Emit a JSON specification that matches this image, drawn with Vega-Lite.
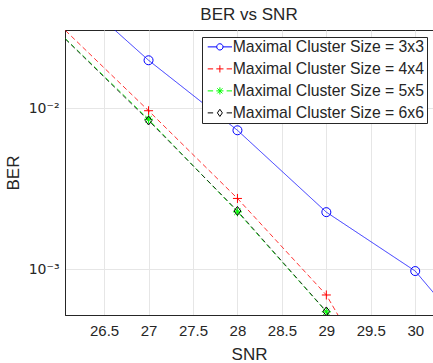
{
  "$schema": "https://vega.github.io/schema/vega-lite/v6.json",
  "width": 368,
  "height": 285,
  "autosize": {"type": "none"},
  "padding": {"left": 65, "top": 30, "right": 0, "bottom": 48},
  "background": "white",
  "title": {"text": "BER vs SNR", "font": "Liberation Sans", "fontSize": 17, "fontWeight": "normal", "color": "#262626", "anchor": "middle", "offset": 6},
  "config": {
    "view": {"stroke": "#262626", "strokeWidth": 1},
    "axis": {"labelFont": "Liberation Sans", "titleFont": "Liberation Sans", "labelColor": "#262626", "titleColor": "#262626", "domainColor": "#262626", "tickColor": "#262626", "gridColor": "#e6e6e6", "labelFontSize": 15, "titleFontSize": 17, "titleFontWeight": "normal"},
    "legend": {"labelFont": "Liberation Sans", "labelFontSize": 15.75, "labelColor": "#262626", "labelLimit": 400}
  },
  "data": {"values": [
    {"SNR": 26, "BER": 0.0622, "series": "Maximal Cluster Size = 3x3"},
    {"SNR": 27, "BER": 0.0199, "series": "Maximal Cluster Size = 3x3"},
    {"SNR": 28, "BER": 0.0073, "series": "Maximal Cluster Size = 3x3"},
    {"SNR": 29, "BER": 0.00226, "series": "Maximal Cluster Size = 3x3"},
    {"SNR": 30, "BER": 0.000972, "series": "Maximal Cluster Size = 3x3"},
    {"SNR": 31, "BER": 0.000215, "series": "Maximal Cluster Size = 3x3"},
    {"SNR": 26, "BER": 0.033, "series": "Maximal Cluster Size = 4x4"},
    {"SNR": 27, "BER": 0.00966, "series": "Maximal Cluster Size = 4x4"},
    {"SNR": 28, "BER": 0.00275, "series": "Maximal Cluster Size = 4x4"},
    {"SNR": 29, "BER": 0.00069, "series": "Maximal Cluster Size = 4x4"},
    {"SNR": 30, "BER": 0.000077, "series": "Maximal Cluster Size = 4x4"},
    {"SNR": 26, "BER": 0.0294, "series": "Maximal Cluster Size = 5x5"},
    {"SNR": 27, "BER": 0.00855, "series": "Maximal Cluster Size = 5x5"},
    {"SNR": 28, "BER": 0.00227, "series": "Maximal Cluster Size = 5x5"},
    {"SNR": 29, "BER": 0.000542, "series": "Maximal Cluster Size = 5x5"},
    {"SNR": 30, "BER": 0.00005, "series": "Maximal Cluster Size = 5x5"},
    {"SNR": 26, "BER": 0.0292, "series": "Maximal Cluster Size = 6x6"},
    {"SNR": 27, "BER": 0.0084, "series": "Maximal Cluster Size = 6x6"},
    {"SNR": 28, "BER": 0.0023, "series": "Maximal Cluster Size = 6x6"},
    {"SNR": 29, "BER": 0.000545, "series": "Maximal Cluster Size = 6x6"},
    {"SNR": 30, "BER": 0.00005, "series": "Maximal Cluster Size = 6x6"}
  ]},
  "layer": [
    {
      "mark": {"type": "line", "clip": true, "strokeWidth": 0.8},
      "encoding": {
        "x": {"field": "SNR", "type": "quantitative", "scale": {"domain": [26.06, 30.2], "nice": false, "zero": false},
          "axis": {"values": [26.5, 27, 27.5, 28, 28.5, 29, 29.5, 30], "format": ".1~f", "grid": true, "tickSize": 0, "labelPadding": 8, "title": "SNR", "titlePadding": 8}},
        "y": {"field": "BER", "type": "quantitative", "scale": {"type": "log", "domain": [0.000518, 0.0307], "nice": false},
          "axis": {"values": [0.001, 0.01], "labelExpr": "datum.value < 0.005 ? '10⁻³' : '10⁻²'", "labelFont": "DejaVu Sans", "labelFontSize": 14, "grid": true, "tickSize": 0, "labelPadding": 6, "title": "BER", "titlePadding": 6}},
        "color": {"field": "series", "type": "nominal", "legend": null,
          "scale": {"domain": ["Maximal Cluster Size = 3x3", "Maximal Cluster Size = 4x4", "Maximal Cluster Size = 5x5", "Maximal Cluster Size = 6x6"], "range": ["#0000ff", "#ff0000", "#00ff00", "#000000"]}},
        "strokeDash": {"field": "series", "type": "nominal", "legend": null,
          "scale": {"domain": ["Maximal Cluster Size = 3x3", "Maximal Cluster Size = 4x4", "Maximal Cluster Size = 5x5", "Maximal Cluster Size = 6x6"], "range": [[1, 0], [5, 3], [5, 3], [5, 3]]}}
      }
    },
    {
      "mark": {"type": "point", "clip": true, "filled": false, "opacity": 1, "size": 81, "strokeWidth": 1},
      "encoding": {
        "x": {"field": "SNR", "type": "quantitative"},
        "y": {"field": "BER", "type": "quantitative"},
        "color": {"field": "series", "type": "nominal", "legend": null,
          "scale": {"domain": ["Maximal Cluster Size = 3x3", "Maximal Cluster Size = 4x4", "Maximal Cluster Size = 5x5", "Maximal Cluster Size = 6x6"], "range": ["#0000ff", "#ff0000", "#00ff00", "#000000"]}},
        "shape": {"field": "series", "type": "nominal", "legend": null,
          "scale": {"domain": ["Maximal Cluster Size = 3x3", "Maximal Cluster Size = 4x4", "Maximal Cluster Size = 5x5", "Maximal Cluster Size = 6x6"],
            "range": ["M-1,0A1,1 0 1 1 1,0A1,1 0 1 1 -1,0Z", "M-1,0L1,0M0,-1L0,1", "M-1,0L1,0M0,-1L0,1M-0.7,-0.7L0.7,0.7M-0.7,0.7L0.7,-0.7", "M0,-1L0.75,0L0,1L-0.75,0Z"]}}
      }
    },
    {
      "transform": [{"filter": "datum.SNR == 31"}],
      "mark": {"type": "point", "clip": true, "filled": false, "opacity": 1, "size": 81, "strokeWidth": 1},
      "encoding": {
        "x": {"field": "SNR", "type": "quantitative"},
        "y": {"field": "BER", "type": "quantitative"},
        "color": {"field": "series", "type": "nominal",
          "scale": {"domain": ["Maximal Cluster Size = 3x3", "Maximal Cluster Size = 4x4", "Maximal Cluster Size = 5x5", "Maximal Cluster Size = 6x6"], "range": ["#0000ff", "#ff0000", "#00ff00", "#000000"]},
          "legend": {"title": null, "orient": "none", "legendX": 137, "legendY": 7, "padding": 2, "rowPadding": 5, "symbolSize": 81, "symbolOffset": 8, "labelOffset": 5, "strokeColor": "#262626", "fillColor": "white", "symbolStrokeWidth": 1}},
        "shape": {"field": "series", "type": "nominal",
          "scale": {"domain": ["Maximal Cluster Size = 3x3", "Maximal Cluster Size = 4x4", "Maximal Cluster Size = 5x5", "Maximal Cluster Size = 6x6"],
            "range": ["M-2.7,0L-0.7,0M0.7,0L2.7,0M-0.7,0A0.7,0.7 0 1 1 0.7,0A0.7,0.7 0 1 1 -0.7,0Z", "M-2.7,0L-1.5,0M-0.8,0L0.8,0M0,-0.8L0,0.8M1.5,0L2.7,0", "M-2.7,0L-1.5,0M-0.8,0L0.8,0M0,-0.8L0,0.8M-0.57,-0.57L0.57,0.57M-0.57,0.57L0.57,-0.57M1.5,0L2.7,0", "M-2.7,0L-1.5,0M0,-0.8L0.55,0L0,0.8L-0.55,0ZM1.5,0L2.7,0"]},
          "legend": {"title": null, "orient": "none", "legendX": 137, "legendY": 7, "padding": 2, "rowPadding": 5, "symbolSize": 81, "symbolOffset": 8, "labelOffset": 5, "strokeColor": "#262626", "fillColor": "white", "symbolStrokeWidth": 1}}
      }
    }
  ],
  "resolve": {"scale": {"color": "independent", "shape": "independent", "strokeDash": "independent"}, "legend": {"color": "independent", "shape": "independent"}}
}
